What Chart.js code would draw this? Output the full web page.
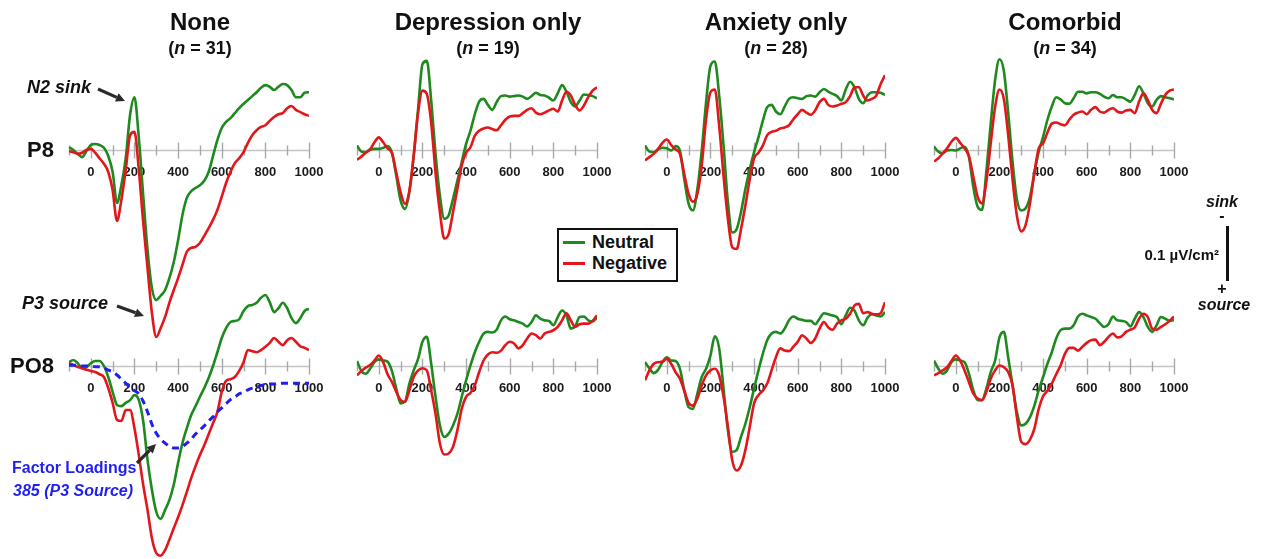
<!DOCTYPE html>
<html>
<head>
<meta charset="utf-8">
<title>CSD waveforms by group</title>
<script src="https://cdn.jsdelivr.net/npm/chart.js@4.4.1/dist/chart.umd.min.js"></script>
<style>
  html, body { margin: 0; padding: 0; background: #fff; }
  #stage { position: relative; width: 1261px; height: 559px; overflow: hidden;
           font-family: Arial, "Liberation Sans", sans-serif; color: #111; }
  #stage canvas { position: absolute; left: 0; top: 0; }
  .txt { position: absolute; white-space: nowrap; line-height: 1; }
  .c { transform: translate(-50%, -50%); }
  .l { transform: translate(0, -50%); }
  .r { transform: translate(-100%, -50%); }
  .title { font-size: 24px; font-weight: bold; }
  .count { font-size: 18px; font-weight: bold; }
  .site { font-size: 22px; font-weight: bold; }
  .note { font-size: 18px; font-weight: bold; font-style: italic; }
  .blue { color: #1f1ff0; font-size: 16px; font-weight: bold; }
  .scale { font-size: 15px; font-weight: bold; }
  .pole { font-size: 16px; font-weight: bold; font-style: italic; }
  #legend { position: absolute; box-sizing: border-box; border: 2px solid #111; background: #fff; }
  .swatch { position: absolute; height: 3px; }
  .legtxt { position: absolute; font-size: 18px; font-weight: bold; transform: translate(0, -50%); line-height: 1; }
  svg { position: absolute; left: 0; top: 0; }
</style>
</head>
<body>
<div id="stage"></div>
<script>
// Time axis (ms after stimulus onset)
const timeMs = [-100, -80, -60, -40, -20, 0, 20, 40, 60, 80, 100, 120, 140, 160, 180, 200, 220, 240, 260, 280,
  300, 320, 340, 360, 380, 400, 420, 440, 460, 480, 500, 520, 540, 560, 580, 600, 620, 640, 660, 680,
  700, 720, 740, 760, 780, 800, 820, 840, 860, 880, 900, 920, 940, 960, 980, 1000];
const xTickLabels = [0, 200, 400, 600, 800, 1000];

const groupNames = ['None', 'Depression only', 'Anxiety only', 'Comorbid'];
const groupSizes = [31, 19, 28, 34];
const siteNames = ['P8', 'PO8'];
const conditionNames = ['Neutral', 'Negative'];

// CSD amplitude, µV/cm² (negative = sink, drawn upward)
const p8NoneNeutral = [-0.005, 0, 0.007, 0.013, 0.002, -0.009, -0.011, -0.009, -0.004, 0.011, 0.04, 0.096, 0.064, 0.015, -0.064, -0.096, -0.022, 0.082, 0.182, 0.251, 0.273, 0.265, 0.255, 0.233, 0.204, 0.164, 0.118, 0.087, 0.075, 0.069, 0.064, 0.056, 0.04, 0.011, -0.018, -0.04, -0.051, -0.058, -0.067, -0.076, -0.084, -0.091, -0.098, -0.105, -0.113, -0.118, -0.115, -0.109, -0.115, -0.12, -0.118, -0.109, -0.096, -0.096, -0.104, -0.105];
const p8NoneNegative = [0.002, 0.004, 0.007, 0.005, 0, -0.002, 0.005, 0.015, 0.025, 0.04, 0.073, 0.129, 0.091, 0.036, -0.027, -0.033, 0.036, 0.131, 0.215, 0.296, 0.34, 0.324, 0.304, 0.278, 0.255, 0.233, 0.209, 0.185, 0.178, 0.176, 0.169, 0.156, 0.142, 0.127, 0.109, 0.085, 0.06, 0.04, 0.024, 0.015, 0.004, -0.013, -0.027, -0.036, -0.042, -0.045, -0.053, -0.06, -0.065, -0.067, -0.076, -0.08, -0.073, -0.069, -0.065, -0.062];
const p8DepNeutral = [-0.008, 0.003, 0.004, -0.001, -0.002, -0.002, -0.004, -0.007, 0.005, 0.047, 0.092, 0.107, 0.077, 0.01, -0.075, -0.156, -0.162, -0.09, 0.007, 0.083, 0.125, 0.119, 0.089, 0.056, 0.022, -0.011, -0.035, -0.065, -0.088, -0.093, -0.082, -0.073, -0.087, -0.098, -0.099, -0.097, -0.098, -0.099, -0.097, -0.093, -0.098, -0.104, -0.1, -0.099, -0.095, -0.09, -0.103, -0.118, -0.106, -0.087, -0.079, -0.09, -0.101, -0.1, -0.098, -0.094];
const p8DepNegative = [0.018, 0.012, 0.005, -0.001, -0.014, -0.023, -0.014, -0.003, 0.005, 0.041, 0.077, 0.098, 0.074, 0.01, -0.068, -0.108, -0.102, -0.05, 0.041, 0.113, 0.161, 0.153, 0.113, 0.071, 0.028, 0.005, -0.005, -0.026, -0.035, -0.039, -0.041, -0.038, -0.036, -0.045, -0.055, -0.061, -0.062, -0.062, -0.067, -0.073, -0.076, -0.068, -0.065, -0.068, -0.072, -0.075, -0.07, -0.09, -0.106, -0.099, -0.082, -0.072, -0.081, -0.096, -0.108, -0.114];
const p8AnxNeutral = [-0.008, 0.003, 0.004, -0.001, -0.004, -0.003, 0.001, -0.007, 0.001, 0.053, 0.098, 0.11, 0.071, 0.001, -0.087, -0.153, -0.161, -0.099, -0.008, 0.095, 0.15, 0.144, 0.113, 0.071, 0.035, 0.004, -0.023, -0.053, -0.078, -0.082, -0.07, -0.065, -0.079, -0.093, -0.096, -0.094, -0.093, -0.098, -0.099, -0.097, -0.105, -0.111, -0.106, -0.102, -0.098, -0.09, -0.11, -0.124, -0.114, -0.093, -0.085, -0.099, -0.105, -0.105, -0.104, -0.1];
const p8AnxNegative = [0.019, 0.013, 0.007, -0.002, -0.013, -0.019, -0.009, -0.001, 0.007, 0.044, 0.08, 0.094, 0.08, 0.028, -0.056, -0.105, -0.11, -0.044, 0.047, 0.125, 0.177, 0.18, 0.144, 0.101, 0.053, 0.015, 0.005, -0.008, -0.027, -0.033, -0.035, -0.039, -0.041, -0.045, -0.056, -0.065, -0.073, -0.068, -0.064, -0.072, -0.087, -0.093, -0.082, -0.079, -0.081, -0.084, -0.087, -0.098, -0.114, -0.114, -0.099, -0.09, -0.093, -0.099, -0.12, -0.136];
const p8ComNeutral = [-0.006, 0.003, 0.006, 0.001, 0, 0.001, -0.003, -0.006, 0.012, 0.067, 0.103, 0.109, 0.039, -0.048, -0.127, -0.165, -0.144, -0.068, 0.021, 0.09, 0.11, 0.106, 0.085, 0.042, 0.003, -0.024, -0.055, -0.079, -0.096, -0.092, -0.085, -0.084, -0.094, -0.106, -0.106, -0.103, -0.105, -0.105, -0.102, -0.097, -0.094, -0.1, -0.096, -0.096, -0.092, -0.088, -0.1, -0.116, -0.103, -0.085, -0.079, -0.091, -0.098, -0.096, -0.094, -0.092];
const p8ComNegative = [0.021, 0.015, 0.006, -0.003, -0.015, -0.022, -0.013, -0.003, 0.011, 0.048, 0.085, 0.097, 0.057, -0.012, -0.078, -0.11, -0.093, -0.027, 0.053, 0.12, 0.148, 0.136, 0.097, 0.042, -0.003, -0.012, -0.032, -0.048, -0.05, -0.047, -0.045, -0.055, -0.064, -0.068, -0.07, -0.065, -0.073, -0.078, -0.07, -0.068, -0.073, -0.076, -0.07, -0.068, -0.072, -0.073, -0.067, -0.088, -0.103, -0.091, -0.073, -0.067, -0.084, -0.1, -0.108, -0.11];

const po8NoneNeutral = [-0.007, -0.011, -0.005, 0.004, 0.002, -0.005, -0.009, -0.009, 0, 0.02, 0.047, 0.071, 0.073, 0.067, 0.062, 0.053, 0.062, 0.1, 0.171, 0.225, 0.265, 0.278, 0.262, 0.244, 0.216, 0.176, 0.14, 0.113, 0.089, 0.073, 0.056, 0.04, 0.022, 0, -0.025, -0.051, -0.069, -0.08, -0.082, -0.085, -0.1, -0.109, -0.111, -0.115, -0.124, -0.129, -0.116, -0.098, -0.105, -0.115, -0.105, -0.087, -0.078, -0.087, -0.1, -0.104];
const po8NoneNegative = [-0.005, -0.002, 0.002, 0.004, 0.007, 0.009, 0.011, 0.015, 0.02, 0.04, 0.067, 0.098, 0.1, 0.08, 0.08, 0.113, 0.162, 0.216, 0.262, 0.313, 0.34, 0.345, 0.335, 0.316, 0.295, 0.275, 0.253, 0.229, 0.204, 0.182, 0.162, 0.144, 0.124, 0.104, 0.084, 0.047, 0.027, 0.024, 0.02, 0.009, -0.007, -0.029, -0.027, -0.025, -0.029, -0.035, -0.042, -0.051, -0.044, -0.038, -0.047, -0.051, -0.044, -0.036, -0.033, -0.029];
const po8DepNeutral = [-0.009, 0.009, 0.014, 0.005, -0.007, -0.012, -0.01, -0.008, 0.009, 0.041, 0.068, 0.065, 0.032, 0.008, -0.013, -0.044, -0.053, -0.004, 0.056, 0.108, 0.129, 0.123, 0.108, 0.087, 0.056, 0.026, -0.001, -0.025, -0.044, -0.059, -0.062, -0.061, -0.066, -0.083, -0.09, -0.085, -0.083, -0.08, -0.077, -0.072, -0.08, -0.092, -0.086, -0.083, -0.082, -0.074, -0.089, -0.101, -0.092, -0.068, -0.072, -0.089, -0.09, -0.083, -0.081, -0.088];
const po8DepNegative = [0.017, 0.009, 0.003, -0.002, -0.01, -0.019, -0.007, 0.015, 0.029, 0.047, 0.062, 0.065, 0.044, 0.02, 0.008, 0.004, 0.008, 0.044, 0.087, 0.141, 0.161, 0.159, 0.147, 0.117, 0.078, 0.056, 0.049, 0.035, 0.011, -0.01, -0.021, -0.025, -0.024, -0.028, -0.038, -0.044, -0.041, -0.032, -0.038, -0.05, -0.059, -0.056, -0.05, -0.059, -0.062, -0.065, -0.071, -0.083, -0.096, -0.083, -0.071, -0.076, -0.077, -0.077, -0.082, -0.092];
const po8AnxNeutral = [-0.007, 0.004, 0.013, 0.007, -0.007, -0.016, -0.01, -0.009, 0.005, 0.044, 0.075, 0.078, 0.05, 0.02, 0.005, -0.019, -0.054, -0.032, 0.041, 0.117, 0.156, 0.153, 0.129, 0.105, 0.075, 0.041, 0.008, -0.022, -0.047, -0.059, -0.062, -0.059, -0.068, -0.083, -0.09, -0.086, -0.084, -0.082, -0.082, -0.076, -0.086, -0.096, -0.094, -0.092, -0.089, -0.076, -0.092, -0.106, -0.101, -0.083, -0.074, -0.088, -0.094, -0.092, -0.09, -0.098];
const po8AnxNegative = [0.026, 0.008, -0.004, -0.007, -0.008, -0.013, -0.004, 0.011, 0.023, 0.045, 0.067, 0.072, 0.059, 0.035, 0.017, 0.008, 0.005, 0.017, 0.056, 0.111, 0.172, 0.19, 0.181, 0.153, 0.111, 0.068, 0.053, 0.045, 0.032, 0.008, -0.016, -0.032, -0.028, -0.027, -0.035, -0.044, -0.056, -0.05, -0.042, -0.05, -0.068, -0.08, -0.07, -0.066, -0.077, -0.083, -0.086, -0.095, -0.11, -0.113, -0.096, -0.098, -0.095, -0.094, -0.096, -0.116];
const po8ComNeutral = [-0.01, 0.005, 0.014, 0.008, -0.007, -0.012, -0.01, -0.007, 0.014, 0.044, 0.062, 0.062, 0.041, 0.011, -0.01, -0.052, -0.062, -0.016, 0.035, 0.084, 0.108, 0.105, 0.093, 0.072, 0.044, 0.02, -0.004, -0.025, -0.05, -0.065, -0.068, -0.068, -0.074, -0.09, -0.095, -0.092, -0.089, -0.086, -0.078, -0.071, -0.076, -0.09, -0.083, -0.082, -0.08, -0.072, -0.086, -0.098, -0.089, -0.071, -0.062, -0.074, -0.089, -0.086, -0.082, -0.084];
const po8ComNegative = [0.017, 0.013, 0.008, 0.002, -0.009, -0.019, -0.01, 0.008, 0.029, 0.05, 0.059, 0.062, 0.047, 0.023, 0.008, -0.001, 0.002, 0.011, 0.035, 0.093, 0.138, 0.142, 0.134, 0.114, 0.078, 0.055, 0.045, 0.032, 0.015, -0.001, -0.022, -0.033, -0.033, -0.028, -0.035, -0.042, -0.047, -0.048, -0.038, -0.044, -0.053, -0.059, -0.052, -0.054, -0.062, -0.066, -0.07, -0.086, -0.095, -0.089, -0.068, -0.066, -0.071, -0.076, -0.082, -0.09];

// PCA factor 385 (P3 source) loadings over time
const factor385Loadings = [-0.01, -0.01, -0.01, 0, 0, 0, 0.01, 0.01, 0.02, 0.05, 0.07, 0.11, 0.16, 0.21, 0.26, 0.3, 0.34, 0.43, 0.56, 0.71, 0.82, 0.89, 0.94, 0.98, 1, 1, 0.98, 0.94, 0.89, 0.83, 0.78, 0.73, 0.67, 0.62, 0.56, 0.51, 0.46, 0.41, 0.38, 0.34, 0.32, 0.29, 0.27, 0.26, 0.24, 0.23, 0.22, 0.22, 0.21, 0.21, 0.21, 0.21, 0.21, 0.21, 0.21, 0.21];

const neutralBySite = [
  [p8NoneNeutral, p8DepNeutral, p8AnxNeutral, p8ComNeutral],
  [po8NoneNeutral, po8DepNeutral, po8AnxNeutral, po8ComNeutral]
];
const negativeBySite = [
  [p8NoneNegative, p8DepNegative, p8AnxNegative, p8ComNegative],
  [po8NoneNegative, po8DepNegative, po8AnxNegative, po8ComNegative]
];

// ---- layout ----
const W = 1261, H = 559;
const panelLeft = [69, 357, 645, 934];
const panelWidth = 240;
const rowZeroY = [150, 366];
const PX_PER_UNIT = 550;      // vertical pixels per µV/cm²
const PX_PER_LOADING = 82;    // vertical pixels per unit loading
const TICK_STEP_MS = 100;
const GREEN = '#1e8a1e', RED = '#e2161b', BLUE = '#1f1ff0';

const stage = document.getElementById('stage');

function toPoints(values) {
  return values.map((v, i) => ({ x: timeMs[i], y: v }));
}

// zero line with ms tick marks and labels, drawn under the waveforms
const zeroAxis = {
  id: 'zeroAxis',
  beforeDatasetsDraw(chart) {
    const { ctx } = chart;
    const x = chart.scales.x, y = chart.scales.y;
    const y0 = Math.round(y.getPixelForValue(0)) + 0.5;
    ctx.save();
    ctx.strokeStyle = '#c4c4c4';
    ctx.lineWidth = 1.6;
    ctx.beginPath();
    ctx.moveTo(x.getPixelForValue(x.min), y0);
    ctx.lineTo(x.getPixelForValue(x.max), y0);
    ctx.stroke();
    ctx.strokeStyle = '#a8a8a8';
    ctx.lineWidth = 1.4;
    for (let v = x.min; v <= x.max; v += TICK_STEP_MS) {
      const px = Math.round(x.getPixelForValue(v)) + 0.5;
      const len = (v % 200 === 0) ? 8 : 5;
      ctx.beginPath();
      ctx.moveTo(px, y0 - len);
      ctx.lineTo(px, y0 + len);
      ctx.stroke();
    }
    ctx.fillStyle = '#1c1c1c';
    ctx.font = 'bold 13px Arial, "Liberation Sans", sans-serif';
    ctx.textAlign = 'center';
    ctx.textBaseline = 'middle';
    xTickLabels.forEach(v => {
      ctx.fillText(String(v), x.getPixelForValue(v), y0 + 21.5);
    });
    ctx.restore();
  }
};

function makePanel(row, col) {
  const canvas = document.createElement('canvas');
  canvas.width = W; canvas.height = H;
  canvas.style.width = W + 'px'; canvas.style.height = H + 'px';
  stage.appendChild(canvas);
  const zeroY = rowZeroY[row];
  const datasets = [
    { label: conditionNames[0], data: toPoints(neutralBySite[row][col]), borderColor: GREEN, order: 2 },
    { label: conditionNames[1], data: toPoints(negativeBySite[row][col]), borderColor: RED, order: 1 }
  ];
  const scales = {
    x: { type: 'linear', min: -100, max: 1000, display: false, ticks: { stepSize: TICK_STEP_MS, autoSkip: false } },
    y: { type: 'linear', min: -zeroY / PX_PER_UNIT, max: (H - zeroY) / PX_PER_UNIT, reverse: true, display: false }
  };
  if (row === 1 && col === 0) {
    datasets.push({
      label: 'Factor 385 loadings', data: toPoints(factor385Loadings), borderColor: BLUE,
      borderDash: [7, 5], borderWidth: 3, yAxisID: 'yLoad', order: 0
    });
    scales.yLoad = { type: 'linear', min: -zeroY / PX_PER_LOADING, max: (H - zeroY) / PX_PER_LOADING, reverse: true, display: false };
  }
  new Chart(canvas, {
    type: 'line',
    data: { datasets },
    options: {
      responsive: false,
      animation: false,
      events: [],
      layout: { padding: { left: panelLeft[col], right: W - panelLeft[col] - panelWidth, top: 0, bottom: 0 } },
      scales,
      elements: {
        point: { radius: 0 },
        line: { borderWidth: 2.6, cubicInterpolationMode: 'monotone', fill: false }
      },
      plugins: { legend: { display: false }, tooltip: { enabled: false } }
    },
    plugins: [zeroAxis]
  });
}

for (let r = 0; r < 2; r++) for (let c = 0; c < 4; c++) makePanel(r, c);

// ---- text ----
function addText(html, cls, x, y, extra) {
  const d = document.createElement('div');
  d.className = 'txt ' + cls;
  d.innerHTML = html;
  d.style.left = x + 'px';
  d.style.top = y + 'px';
  if (extra) Object.assign(d.style, extra);
  stage.appendChild(d);
  return d;
}

const titleX = [200, 488, 776, 1065];
groupNames.forEach((name, i) => {
  addText(name, 'title c', titleX[i], 22);
  addText('(<i>n</i> = ' + groupSizes[i] + ')', 'count c', titleX[i], 48);
});

addText(siteNames[0], 'site l', 27, rowZeroY[0]);
addText(siteNames[1], 'site l', 10, rowZeroY[1]);
addText('N2 sink', 'note l', 27, 87);
addText('P3 source', 'note l', 22, 303);
addText('Factor Loadings', 'blue l', 12, 468);
addText('385 (P3 Source)', 'blue l', 13, 491, { fontStyle: 'italic' });

// legend
const legend = document.createElement('div');
legend.id = 'legend';
Object.assign(legend.style, { left: '557px', top: '228px', width: '121px', height: '54px' });
stage.appendChild(legend);
[[GREEN, 242, conditionNames[0]], [RED, 263, conditionNames[1]]].forEach(([col, y, name]) => {
  const s = document.createElement('div');
  s.className = 'swatch';
  Object.assign(s.style, { left: '563px', top: (y - 1.5) + 'px', width: '22px', background: col });
  stage.appendChild(s);
  const t = document.createElement('div');
  t.className = 'legtxt';
  t.textContent = name;
  Object.assign(t.style, { left: '592px', top: y + 'px' });
  stage.appendChild(t);
});

// scale bar: 0.1 µV/cm²
const barLen = 0.1 * PX_PER_UNIT;
const bar = document.createElement('div');
Object.assign(bar.style, { position: 'absolute', left: '1226px', top: '226px', width: '3px', height: barLen + 'px', background: '#111' });
stage.appendChild(bar);
addText('0.1 µV/cm²', 'scale r', 1219, 254);
addText('sink', 'pole c', 1222, 202);
addText('-', 'pole c', 1222, 216, { fontStyle: 'normal' });
addText('+', 'pole c', 1222, 289, { fontStyle: 'normal' });
addText('source', 'pole c', 1224, 305);

// annotation arrows
const NS = 'http://www.w3.org/2000/svg';
const svg = document.createElementNS(NS, 'svg');
svg.setAttribute('width', W); svg.setAttribute('height', H);
stage.appendChild(svg);
function arrow(x1, y1, x2, y2) {
  const ang = Math.atan2(y2 - y1, x2 - x1);
  const head = 9, half = 4.5;
  const bx = x2 - head * Math.cos(ang), by = y2 - head * Math.sin(ang);
  const line = document.createElementNS(NS, 'line');
  line.setAttribute('x1', x1); line.setAttribute('y1', y1);
  line.setAttribute('x2', bx); line.setAttribute('y2', by);
  line.setAttribute('stroke', '#2a2a2a'); line.setAttribute('stroke-width', '3.2');
  svg.appendChild(line);
  const p = document.createElementNS(NS, 'polygon');
  const lx = bx + half * Math.sin(ang), ly = by - half * Math.cos(ang);
  const rx = bx - half * Math.sin(ang), ry = by + half * Math.cos(ang);
  p.setAttribute('points', `${x2},${y2} ${lx},${ly} ${rx},${ry}`);
  p.setAttribute('fill', '#2a2a2a');
  svg.appendChild(p);
}
arrow(98, 89, 125, 101);
arrow(117, 306, 144, 316);
arrow(137, 463, 156, 444);
</script>
</body>
</html>
